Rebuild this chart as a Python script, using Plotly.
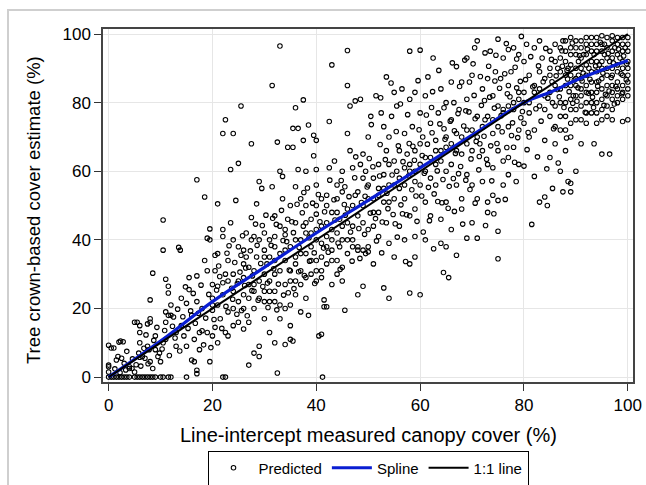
import plotly.graph_objects as go

# Predicted points (line-intercept cover %, crown-based estimate %)
predicted_points = [
    (0,0),(0.5,0),(1,0),(1.5,0),(2,0),(2.5,0),(3,0),(3.5,0),(4,0),(5,0),(5.5,0),(6,0),(6.5,0),(7,0),
    (7.5,0),(8,0),(8.5,0),(9,0),(10,0),(10.5,0),(11.5,0),(12,0),(15,0),
    (0,9.3),(0,3.5),(0,3),(0,1.5),(0.5,8.5),(1,8.5),(1.5,5),(2,10.2),(2.3,10.5),(2.8,10.3),(1.8,6),(2.5,5.5),
    (3,4),(3.5,7.5),(4,2.5),(4.5,2.5),(4,3),(5,1.5),(5.5,16),(5,16),(6,15),(6,13),(6,10),(5.8,7),(6,5.8),
    (6.5,6),(7,5.5),(7.5,15.5),(8,17),(8,16),(7.5,9),(7.8,8),(8,4.5),(8.5,2.5),(8,22.5),(8.5,30.3),(9,12),
    (9,8),(9.5,6),(9.8,7),(10,4.5),(10.5,45.8),(10.5,37),(11,28.5),(11,19),(11,16),(11.5,26.5),(11.5,24.5),
    (10.5,10),(11,11),(11.5,18),(12,21),(12,18),(12.5,17.5),(13,13),(13,9),(13.5,37.8),(13.8,37),(14,23),
    (14,15),(14.5,12),(15,9),(15.5,29),(15.5,25.5),(15,21.5),(16,18),(16.5,11),(16,5),(16.5,4.5),(17,57.5),
    (17,29.5),(17,22),(17,2),(17,1),(17.5,13),(17.5,8),(18,20),(18,13.5),(18.5,52.5),(18.5,34),(19,40.5),
    (19,31),(19,13),(19.5,43.2),(19.5,40),(19.5,4.5),(20,27),(20,23),(20,19.5),(20,12),(20.5,35.5),(20.5,31),
    (20.5,14.5),(21,50.5),(21,36),(21,26.5),(21,10),(21.5,17),(22,43),(22,41),(22,27.5),(22,0),(22.5,0),
    (22.5,30),(22.5,13),(22,71),(22.5,75),(23,34),(23,28),(23,12),(23.5,45),(23.5,60.5),(24,71),(24,30),
    (24,20),(24,15),(24.5,51.5),(25,62.3),(25,38),(25,22),(25,16),(25.5,79),(25.5,35.5),(26,33),(26,24),
    (26,20),(26,14),(26.5,42),(26.5,35),(27,32),(27,23),(27,16),(27,3.5),(27.5,68),(27.5,46.5),(27.5,40),
    (28,31),(28,27),(28,20),(28,7),(28.5,50.5),(28.5,35),(29,57),(29,40),(29,23),(29,9),(29,6),(29.5,55),
    (30,42),(30,37),(30,25),(30,17),(30.5,33),(31,40),(31,28),(31,22),(31,13),(31.5,85),(31.5,55.5),(32,47),
    (32,34),(32,30),(32,25),(32,10),(32.5,68.5),(32.5,1.2),(33,96.5),(33,60),(33,44),(33,36),(33,21),
    (33.5,58.5),(33.5,52),(34,41.5),(34,34),(34,27),(34,9.5),(34.5,67),(34.5,46),(35,50),(35,38),(35,21),
    (35,15),(35,11),(35.5,67),(35.5,72.5),(35.5,10.5),(36,78.5),(36,55.5),(36,45),(36,33),(36,24),(36.5,72.5),
    (36.5,60.5),(37,52),(37,40),(37,31),(37,19),(37.5,80.8),(37.5,69),(37.5,44),(38,60),(38,50),(38,36),
    (38,23),(38.5,73.5),(38.5,18),(39,46),(39,38),(39,30),(39.5,64.5),(39.5,70.5),(40,69),(40,60.5),(40,56),
    (40,47.5),(40,40),(40,31),(40,28),(40.5,12),(41,52),(41,44),(41,35),(41,29),(41,12.5),(41.2,0),
    (41.5,20.5),(41.5,22.5),(42,50),(42,41),(42,33),(42,20.5),(42.5,74.5),(42.5,61),(43,91),(43,48),(43,43),
    (43,37),(43,27),(43.5,63),(44,56),(44,42),(44,30),(44.5,46),(44.5,38),(45,60),(45,54),(45,32),(45,28),
    (45.5,55.5),(45.5,19.5),(46,85),(46,95.2),(46,71),(46,49),(46,36),(46.5,79),(46.5,66),(47,61),(47,44),
    (47,38),(47.5,80.5),(47.5,53),(48,54),(48,37),(48,24),(48.5,81),(48.5,62),(49,65),(49,58),(49,45),
    (49,26.5),(49.5,60),(49.5,36),(50,70),(50,56),(50,43),(50,36.5),(50.5,76),(51,58),(51,52),(51,44),(51,33),
    (51.5,82),(52,62),(52,55),(52,48),(52,41),(52.5,77),(53,73),(53,59),(53,51),(53,26),(53.5,87.5),(53.5,66),
    (53.5,45),(54,70),(54,62),(54,51),(54,39),(54,23),(54.5,76),(55,83),(55,63),(55,56),(55,35),(55.5,79),
    (55.5,60),(56,66),(56,55),(56,44),(56.5,84),(57,71),(57,61),(57,52),(57,40),(57.5,65),(58,95),(58,81),
    (58,62),(58,47),(58,33),(58,24.5),(58.5,73),(59,83),(59,66),(59,57),(59,49),(59,41),(59,35),(60,95.3),
    (60,77),(60,68),(60,56),(60,24),(60.5,70),(61,82),(61,64),(61,51),(61,40),(61.5,87.5),(62,74),(62,58),
    (62,47),(62.5,93),(63,69),(63,62),(63,56),(63.5,77),(64,84),(64,66),(64,46),(64,39),(64.5,30.5),(65,80),
    (65,70),(65,60),(65,51),(65,38),(65.5,29),(66,86),(66,75),(66,62),(66,43),(66.5,80),(67,90.5),(67,71),
    (67,56),(67,35.5),(67.5,78),(68,86),(68,65),(68,52),(68,49),(69,93),(69,81),(69,72),(69,59),(69,40.5),
    (69.5,86),(70,88),(70,66),(70,56),(70,45),(70.5,96),(71,76),(71,98),(71,52),(71,40.5),(71.5,68),(72,84),
    (72,66),(72,57),(72.5,94.5),(72.5,75),(73,87),(73,62),(73,51),(73,48),(73.5,95),(74,82),(74,71),(74,61),
    (74,53),(74.5,89),(75,98.5),(75,79),(75,66),(75,51.5),(75,34.5),(75,42.5),(75.5,87),(76,93),(76,77),
    (76,63),(76,56),(77,95.5),(77,85),(77,73),(77,64),(77,59),(77.5,89),(78,96),(78,80),(78,67),(78.5,57),
    (79,94),(79,83),(79,72),(79,62),(79.5,99.3),(80,92),(80,80),(80,74),(80,61.5),(80.5,97),(81,88),(81,77),
    (81,70),(81.5,44.5),(82,96),(82,83),(82,72),(82,58.5),(83,98),(83,89),(83,79),(83,51),(83.5,93),(84,87),
    (84,78),(84,69),(84,52.5),(84.5,50),(85,95),(85,90),(85,83),(85,76),(85,64),(85.5,55),(86,92),(86,85),
    (86,73),(86,68),(87,96),(87,89),(87,80),(87,72),(87,60),(87.5,54),(88,98),(88,92),(88,85),(88,76),(88,66),
    (88.5,57),(89,99),(89,94),(89,88),(89,81),(89,70),(89,56.5),(89,54),(90,96),(90,90),(90,85),(90,78),
    (90,60),(90.5,92),(91,98),(91,93),(91,87),(91,82),(91,75),(91,68),(92,97),(92,91),(92,85),(92,80),(92,74),
    (93,99),(93,95),(93,89),(93,83),(93,77),(93.5,68),(94,97),(94,92),(94,86),(94,80),(94,74),(95,99.5),
    (95,95),(95,90),(95,84),(95,78),(95,65),(95.5,97),(96,93),(96,88),(96,82),(96,76),(96.5,65),(97,98),
    (97,95),(97,90),(97,85),(97,81),(97,75),(98,99),(98,94),(98,89),(98,84),(98,80),(99,97),(99,92),(99,88),
    (99,83),(99,74.5),(100,99),(100,95),(100,90),(100,86),(100,82),
    (85,88),(85.5,80),(86,97),(86,79),(86.5,90),(87,93),(87,84),(87,76),(87.5,98),(88,95),(88,88),(88,80),
    (88,72),(88.5,90),(89,96),(89,91),(89,85),(89,78),(89,74),(89.5,82),(90,98),(90,94),(90,87),(90,82),
    (90,75),(90.5,88),(91,96),(91,90),(91,84),(91,79),(91.5,94),(92,99),(92,94),(92,88),(92,83),(92,77),
    (92.5,90),(93,97),(93,92),(93,86),(93,80),(93.5,94),(94,99),(94,95),(94,89),(94,83),(94,77),(94.5,91),
    (95,97),(95,92),(95,87),(95,81),(95,75),(95.5,94),(96,99),(96,96),(96,90),(96,85),(96,79),(96.5,92),
    (97,99.5),(97,93),(97,88),(97,83),(97,78),(97.5,96),(98,97),(98,91),(98,86),(98,82),(98.5,93),(99,99),
    (99,95),(99,90),(99,85),(99,81),(99.5,96),(100,97),(100,92),(100,88),(100,84),(100,75),
    (20,21),(21,21),(22,24),(23,19),(24,25),(25,28),(26,29),(27,27),(28,25),(29,28),(30,30),(31,35),(32,38),
    (33,31),(34,37),(35,31),(36,35),(37,36),(38,42),(39,34),(40,43),(41,39),(42,45),(43,40),(44,48),(45,44),
    (46,45),(47,50),(48,47),(49,50),(50,52),(51,48),(52,53),(53,55),(54,56),(55,52),(56,58),(57,56),(58,60),
    (59,60),(60,62),(61,60),(62,64),(63,66),(64,63),(65,67),(66,68),(67,66),(68,70),(69,68),(70,72),(71,70),
    (72,73),(73,76),(74,75),(75,73),(76,78),(77,79),(78,78),(79,81),(80,83),(81,80),(82,85),(83,84),(84,82),
    (30,22),(31,25),(32,22),(33,17),(34,20),(35,28),(36,28),(37,27),(38,29),(39,42),(40,34),(41,31),(42,38),
    (43,34),(44,34),(45,40),(46,40),(47,40),(48,38),(49,37),(50,38),(24,40),(26,37),(28,41),(30,35),(32,41),
    (34,43),(36,40),(38,45),(40,50),(42,53),(44,52),
    (40.7,45.3),(41.6,48.2),(42.3,36.4),(43.4,51.7),(44.2,39.1),(44.8,57.3),(45.6,47.2),(46.3,52.6),(46.9,33.8),
    (47.4,58.1),(48.2,43.3),(48.7,50.9),(49.3,41.6),(49.8,55.4),(50.4,47.8),(50.9,61.3),(51.6,39.7),(52.2,58.6),
    (52.7,45.2),(53.3,63.4),(53.8,49.1),(54.6,58.9),(55.2,44.7),(55.8,67.4),(56.3,50.2),(56.7,62.8),(57.4,47.3),
    (57.9,68.1),(58.4,54.6),(58.9,63.2),(59.4,45.4),(59.8,72.1),(60.3,52.8),(60.8,59.4),(61.4,67.9),(61.8,45.6),
    (62.3,71.2),(62.7,53.4),(63.3,60.1),(63.8,73.8),(64.4,57.6),(64.8,69.3),(65.4,49.2),(65.8,74.6),(66.4,57.9),
    (66.8,65.2),(67.3,76.8),(67.8,61.4),(68.4,73.2),(68.8,57.4),(69.4,77.3),(69.8,63.6),(70.4,82.1),(70.8,68.7),
    (71.3,60.4),(71.8,79.2),(72.3,70.2),(72.8,63.5),(73.4,81.6),(73.8,57.2),(74.3,78.4),(74.8,68.1),(75.3,84.2),
    (75.8,71.5),(76.3,88.4),(76.7,66.9),(77.3,81.7),(77.8,74.1),(78.3,90.3),(78.8,69.8),(79.3,86.2),(79.7,77.4),
    (20.3,16.8),(20.8,25.4),(21.4,29.3),(21.8,14.2),(22.6,20.6),(23.2,38.3),(23.7,25.9),(24.3,33.4),(24.7,18.3),
    (25.3,30.6),(25.8,41.2),(26.2,26.7),(26.7,17.9),(27.3,36.8),(27.7,29.5),(28.3,44.6),(28.8,22.4),(29.3,33.1),
    (29.7,26.4),(30.3,47.2),(30.7,20.3),(31.3,38.4),(31.8,31.6),(32.3,44.5),(32.7,27.1),(33.3,48.6),(33.7,23.9),
    (34.3,39.5),(34.8,31.2),(35.3,45.3),(35.7,25.8),(36.3,50.4),(36.7,37.8),(37.3,47.9),(37.7,29.6),(38.3,55.1),
    (38.7,33.8),(39.3,50.7),(39.7,27.3),
    (5.3,3.6),(6.8,8.4),(7.2,12.3),(8.7,10.7),(9.3,14.5),(10.3,8.2),(10.8,13.6),(11.7,6.3),(12.3,14.8),
    (12.8,11.4),(13.3,19.8),(13.7,7.6),(14.3,17.6),(14.8,26.3),(15.3,14.2),(15.8,19.3),(16.3,24.4),(16.7,15.7),
    (17.3,18.6),(17.8,26.8),(18.3,9.4),(18.7,17.2),(19.3,24.1),(19.7,8.6),(3.3,2.1),(2.2,1.3),(1.2,2.4),
    (4.6,5.3),(6.2,3.2),(7.6,3.9),
    (80.3,86.7),(80.8,71.3),(81.3,93.4),(81.7,84.6),(82.3,78.2),(82.8,90.7),(83.3,74.6),(83.7,86.1),(84.2,95.8),
    (84.6,81.3),(85.3,92.6),(85.7,72.4),(86.2,87.8),(86.8,81.7),(87.3,95.1),(87.7,78.6),(88.3,89.4),(88.7,83.2),
    (89.3,97.4),(89.7,86.6),(90.2,80.4),(90.7,93.7),(91.2,86.3),(91.8,77.2),(92.2,95.6),(92.7,86.8),(93.2,81.6),
    (93.8,90.7),(94.2,84.8),(94.7,97.6),(95.2,88.6),(95.7,82.4),(96.2,94.3),(96.8,87.3),(97.2,91.6),(97.7,84.7),
    (98.2,95.6),(98.7,88.4),(99.2,93.6),(99.7,86.7),(99.8,91.3),(98.9,82.6),(97.4,79.6),(96.4,83.4),(95.4,79.2),
    (94.4,86.3),(93.4,78.6),(92.4,82.7),(91.4,88.6),(90.4,84.3),(89.4,79.8),(88.4,86.9),(87.4,90.6),(86.4,83.8),
    (85.4,86.1),
    (50.6,73.6),(52.4,81.4),(54.4,85.7),(56.2,79.6),(57.6,76.5),(59.6,86.4),(61.2,76.4),(62.4,83.2),(63.6,89.4),
    (64.6,78.5),(66.2,91.6),(67.6,84.7),(68.6,92.4),(70.2,91.3),(71.6,87.6),(73.2,90.6),(74.6,93.8),(76.6,97.2),
    (78.6,92.7),
    (52.6,36.2),(55.6,40.8),(57.2,33.7),(60.6,42.3),(62.6,37.4),(64.2,50.8),(66.6,48.3),(68.2,44.6),(70.6,50.7),
    (72.6,44.2),(74.2,47.6),(76.4,51.8),(78.2,62.6),(80.6,66.3),(82.6,64.2),(84.4,60.7),(86.6,62.4),(88.2,69.7),
    (21.2,32.4),(22.8,36.1),(23.9,22.7),(24.8,27.3),(25.6,19.4),(26.4,31.8),(27.6,25.2),(28.6,38.4),(29.6,44.2),
    (30.6,27.4),(31.6,46.3),(32.4,19.6),(33.6,39.8),(34.6,24.6),(35.6,42.1),(36.6,30.7),(37.6,53.8),(38.6,40.6),
    (39.6,36.2),(40.4,53.2),(41.4,37.6),(42.6,57.4),(43.6,45.8),(44.6,31.4),(45.4,50.3),(46.6,42.3),(47.6,64.2),
    (48.4,34.6),(49.4,52.7),(50.2,63.7),(51.4,46.2),(52.3,67.8),(53.6,53.6),(54.8,47.4),(55.4,71.6),(56.6,47.6),
    (57.8,58.7),(58.6,67.3),(59.2,52.8),(60.4,64.6),(61.6,55.3),(62.2,78.6),(63.4,51.2),(64.6,72.4),(65.6,55.6),
    (66.6,71.8),(67.4,59.3),(68.8,77.6),(69.6,54.7),(70.6,75.3),(71.4,64.3),(72.4,80.6),(73.6,67.4),(74.4,86.3),
    (75.6,76.2),(76.8,82.6),(77.6,70.4),(78.6,84.3),(79.4,75.6),
]
pred_x = [p[0] for p in predicted_points]
pred_y = [p[1] for p in predicted_points]

# Fitted spline
spline_x = [0, 10, 20, 30, 40, 50, 60, 70, 80, 85, 90, 95, 100]
spline_y = [0, 10.5, 22, 32, 42, 51.5, 61, 70.5, 80, 83, 86.5, 89.5, 92.3]

# 1:1 reference line
line_x = [0, 100]
line_y = [0, 100]

tick_vals = [0, 20, 40, 60, 80, 100]

FONT = "Liberation Sans, Arial, sans-serif"

fig = go.Figure()
fig.add_trace(go.Scatter(
    x=pred_x, y=pred_y, mode="markers", name="Predicted",
    marker=dict(symbol="circle-open", size=4.5, color="black", line=dict(width=1.1, color="black")),
))
fig.add_trace(go.Scatter(
    x=spline_x, y=spline_y, mode="lines", name="Spline", line_shape="spline",
    line=dict(color="#0a1ed2", width=3.2),
))
fig.add_trace(go.Scatter(
    x=line_x, y=line_y, mode="lines", name="1:1 line",
    line=dict(color="black", width=2),
))

axis_common = dict(
    tickvals=tick_vals, ticks="outside", ticklen=7, tickwidth=1, tickcolor="#333",
    showline=True, linecolor="#444", linewidth=1.5, mirror=True,
    showgrid=True, gridcolor="#e6e6e6", gridwidth=1, zeroline=False,
    tickfont=dict(family=FONT, size=17, color="black"),
    automargin=False,
)

fig.update_layout(
    width=646, height=485,
    margin=dict(l=103, r=13, t=29, b=103, autoexpand=False),
    plot_bgcolor="white", paper_bgcolor="white",
    font=dict(family=FONT, color="black"),
    xaxis=dict(range=[-1.08, 101.0], **axis_common),
    yaxis=dict(range=[-1.43, 101.46], **axis_common),
    showlegend=True,
    legend=dict(
        orientation="h", xref="container", yref="container",
        x=368 / 646, xanchor="center", y=1 - 468 / 485, yanchor="middle",
        bordercolor="black", borderwidth=1, bgcolor="white",
        font=dict(family=FONT, size=15, color="black"),
        itemwidth=40, tracegroupgap=0,
    ),
    annotations=[
        dict(text="Line-intercept measured canopy cover (%)", xref="paper", yref="paper",
             x=0.5, y=(382 - 435) / 353, xanchor="center", yanchor="middle", showarrow=False,
             font=dict(family=FONT, size=20, color="black")),
        dict(text="Tree crown-based cover estimate (%)", xref="paper", yref="paper",
             x=(33 - 103) / 530, y=(382 - 210) / 353, xanchor="center", yanchor="middle",
             textangle=-90, showarrow=False, font=dict(family=FONT, size=18.5, color="black")),
    ],
    shapes=[
        dict(type="rect", xref="paper", yref="paper",
             x0=(8 - 103) / 530, x1=(700 - 103) / 530,
             y0=(382 - 560) / 353, y1=(382 - 10) / 353,
             line=dict(color="#cfcfcf", width=2), fillcolor="rgba(0,0,0,0)", layer="below"),
    ],
)

fig.write_html(
    "out.html",
    config={"displayModeBar": False},
    post_script="document.body.style.margin='0';document.body.style.overflow='hidden';",
)
